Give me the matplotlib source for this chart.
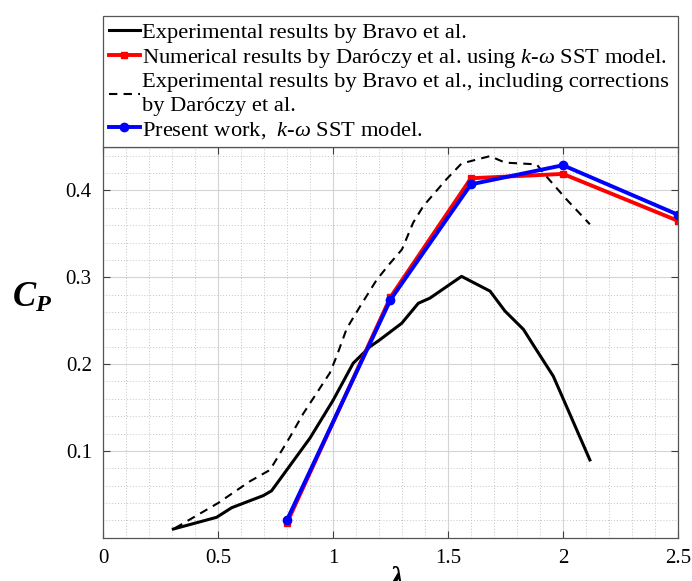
"""Power coefficient vs tip speed ratio, comparison with Bravo / Daroczy data."""

import matplotlib

matplotlib.use("Agg")
import matplotlib.pyplot as plt
from matplotlib.ticker import MultipleLocator


# Experimental results by Bravo et al.
bravo_tsr = [0.306, 0.494, 0.56, 0.697, 0.733, 0.9, 1.0, 1.088, 1.161, 1.204, 1.299,
             1.371, 1.422, 1.559, 1.683, 1.748, 1.828, 1.871, 1.958, 2.001, 2.117]
bravo_cp = [0.010, 0.0235, 0.0346, 0.0485, 0.054, 0.1147, 0.158, 0.201, 0.220, 0.228, 0.247,
            0.270, 0.276, 0.301, 0.284, 0.261, 0.240, 0.222, 0.186, 0.160, 0.0896]

# Bravo et al. with corrections by Daroczy et al.
corr_tsr = [0.313, 0.501, 0.639, 0.726, 0.813, 0.871, 0.987, 1.016, 1.06, 1.117, 1.19,
            1.248, 1.30, 1.349, 1.393, 1.494, 1.559, 1.683, 1.748, 1.886, 1.915, 2.016, 2.117]
corr_cp = [0.011, 0.040, 0.065, 0.078, 0.116, 0.143, 0.190, 0.209, 0.241, 0.266, 0.297,
           0.316, 0.332, 0.363, 0.382, 0.413, 0.431, 0.4395, 0.432, 0.430, 0.420, 0.3895, 0.361]

# Numerical results by Daroczy et al. (k-omega SST)
daroczy_tsr = [0.8, 1.25, 1.6, 2.0, 2.5]
daroczy_cp = [0.017, 0.277, 0.414, 0.419, 0.365]

# Present work (k-omega SST)
present_tsr = [0.8, 1.25, 1.6, 2.0, 2.5]
present_cp = [0.0204, 0.274, 0.407, 0.429, 0.372]

labels = [
    "Experimental results by Bravo et al.",
    r"Numerical results by Daróczy et al. using $k$-$\omega$ SST model.",
    "Experimental results by Bravo et al., including corrections\nby Daróczy et al.",
    r"Present work,  $k$-$\omega$ SST model.",
]

plt.rcParams["font.family"] = ["Liberation Serif", "DejaVu Serif"]
plt.rcParams["mathtext.fontset"] = "custom"
plt.rcParams["mathtext.rm"] = "Liberation Serif"
plt.rcParams["mathtext.it"] = "Liberation Serif:italic"
plt.rcParams["mathtext.bf"] = "Liberation Serif:bold:italic"

fig = plt.figure(figsize=(6.92, 5.81), dpi=100)
ax = fig.add_axes([0.1488, 0.0745, 0.8309, 0.6725])

ax.plot(bravo_tsr, bravo_cp, color="black", lw=2.2, label=labels[0])
ax.plot(daroczy_tsr, daroczy_cp, color="#ff0000", lw=2.8, marker="s", ms=5, label=labels[1])
ax.plot(corr_tsr, corr_cp, color="black", lw=1.5, ls=(0, (4, 3)), label=labels[2])
ax.plot(present_tsr, present_cp, color="#0000ff", lw=2.8, marker="o", ms=6, label=labels[3])

ax.set_xlim(0, 2.5)
ax.set_ylim(0, 0.45)
ax.set_xticks([0, 0.5, 1, 1.5, 2, 2.5])
ax.set_xticklabels(["0", "0.5", "1", "1.5", "2", "2.5"])
ax.set_yticks([0.1, 0.2, 0.3, 0.4])
ax.xaxis.set_minor_locator(MultipleLocator(0.1))
ax.yaxis.set_minor_locator(MultipleLocator(0.02))
ax.grid(True, which="major", color="#d4d4d4", lw=0.8)
ax.grid(True, which="minor", color="#c4c4c4", lw=0.7, ls=(0, (1, 2)))
ax.set_axisbelow(True)
ax.tick_params(which="major", direction="in", length=5, top=True, right=True,
               labelsize=15, color="#404040", pad=8)
ax.tick_params(which="minor", length=0)
for sp in ax.spines.values():
    sp.set_color("#555555")
    sp.set_linewidth(0.9)

ax.set_xlabel(r"$\mathbf{\lambda}$", fontsize=23, labelpad=0)
ax.xaxis.set_label_coords(0.51, -0.072)
ax.set_ylabel(r"$\mathbf{C_P}$", fontsize=25, rotation=0, va="center", ha="center")
ax.yaxis.set_label_coords(-0.123, 0.612)

leg = ax.legend(loc="lower left", bbox_to_anchor=(0, 1, 1, 0.1), mode="expand",
                borderaxespad=0, fontsize=16.2, handlelength=1.35, handletextpad=0.1,
                labelspacing=0.17, borderpad=0.28, fancybox=False, framealpha=1)
leg.get_texts()[2].set_linespacing(1.3)
leg.get_frame().set_edgecolor("#555555")
leg.get_frame().set_linewidth(0.9)

fig.savefig("out.png", dpi=100)
